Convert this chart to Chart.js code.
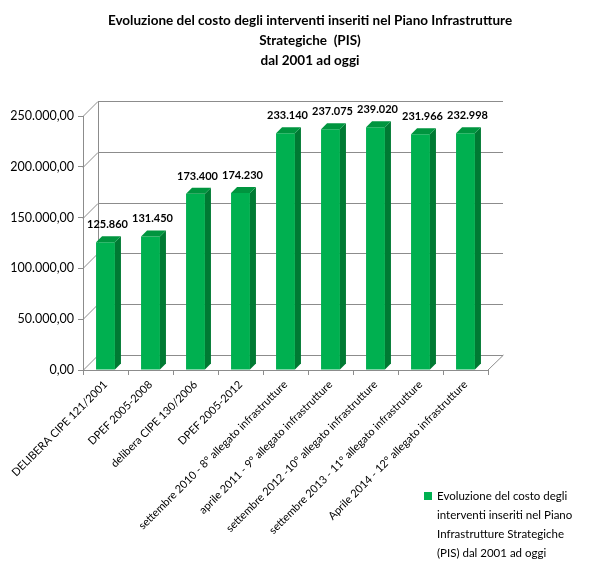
<!DOCTYPE html>
<html>
<head>
<meta charset="utf-8">
<script src="https://cdn.jsdelivr.net/npm/chart.js@4.4.0/dist/chart.umd.min.js"></script>
<style>
  body{margin:0;background:#fff;font-family:Lato,"Noto Sans",sans-serif}
  #wrap{position:relative;width:600px;height:578px}
  #title{position:absolute;left:0;top:10px;width:620px;text-align:center;font-weight:bold;font-size:13.5px;line-height:20px;color:#000}
  #legend{position:absolute;left:424px;top:486px;width:175px;font-size:11.5px;line-height:19px;color:#000}
  #legend span{display:inline-block;width:8px;height:8px;background:#00b050;margin-right:5px}
  #legend div{padding-left:13px}
</style>
</head>
<body>
<div id="wrap">
  <canvas id="c" width="600" height="578"></canvas>
  <div id="title">Evoluzione del costo degli interventi inseriti nel Piano Infrastrutture<br>Strategiche &nbsp;(PIS)<br>dal 2001 ad oggi</div>
  <div id="legend"><span></span>Evoluzione del costo degli<div>interventi inseriti nel Piano<br>Infrastrutture Strategiche<br>(PIS) dal 2001 ad oggi</div></div>
</div>
<script>
const categories = ['DELIBERA CIPE 121/2001','DPEF 2005-2008','delibera CIPE 130/2006','DPEF 2005-2012',
  'settembre 2010 - 8° allegato infrastrutture','aprile 2011 - 9° allegato infrastrutture',
  'settembre 2012 -10° allegato infrastrutture','settembre 2013 - 11° allegato infrastrutture',
  'Aprile 2014 - 12° allegato infrastrutture'];
const costs = [125860,131450,173400,174230,233140,237075,239020,231966,232998];
const valueLabels = ['125.860','131.450','173.400','174.230','233.140','237.075','239.020','231.966','232.998'];

const D = 15; // wall depth
const d = 6;  // bar depth

const fmt = v => v.toLocaleString('it-IT',{minimumFractionDigits:2,maximumFractionDigits:2});

const fake3d = {
  id:'fake3d',
  beforeDatasetsDraw(chart){
    const {ctx, chartArea:a, scales:{y}} = chart;
    ctx.save();
    ctx.strokeStyle = '#8c8c8c'; ctx.lineWidth = 1;
    ctx.beginPath();
    y.ticks.forEach(t=>{
      const py = Math.round(y.getPixelForValue(t.value))+0.5;
      ctx.moveTo(a.left,py); ctx.lineTo(a.left+D,py-D); ctx.lineTo(a.right+D,py-D);
    });
    ctx.moveTo(a.left+D+0.5,a.top-D); ctx.lineTo(a.left+D+0.5,a.bottom-D);
    ctx.moveTo(a.right+D+0.5,a.bottom-D); ctx.lineTo(a.right,a.bottom);
    ctx.stroke();
    ctx.restore();
  },
  afterDatasetsDraw(chart){
    const {ctx} = chart;
    const meta = chart.getDatasetMeta(0);
    ctx.save();
    meta.data.forEach((bar,i)=>{
      const w = bar.width, x0 = bar.x - w/2, x1 = bar.x + w/2, top = bar.y, base = bar.base;
      ctx.fillStyle = '#007a33';
      ctx.beginPath();
      ctx.moveTo(x1,top); ctx.lineTo(x1+d,top-d); ctx.lineTo(x1+d,base-d); ctx.lineTo(x1,base); ctx.closePath(); ctx.fill();
      ctx.fillStyle = '#00953f';
      ctx.beginPath();
      ctx.moveTo(x0,top); ctx.lineTo(x0+d,top-d); ctx.lineTo(x1+d,top-d); ctx.lineTo(x1,top); ctx.closePath(); ctx.fill();
      ctx.fillStyle = '#000';
      ctx.font = 'bold 11px Lato, "Noto Sans", sans-serif';
      ctx.textAlign = 'center'; ctx.textBaseline = 'bottom';
      ctx.fillText(valueLabels[i], bar.x+2, top-12);
    });
    ctx.restore();
  }
};

new Chart(document.getElementById('c'),{
  type:'bar',
  data:{labels:categories,datasets:[{data:costs,backgroundColor:'#00b050',barPercentage:0.42,categoryPercentage:1}]},
  options:{
    responsive:false,animation:false,
    layout:{padding:{top:116,right:112,left:0,bottom:0}},
    plugins:{legend:{display:false},tooltip:{enabled:false}},
    scales:{
      x:{
        grid:{display:true,drawOnChartArea:false,tickLength:5,color:'#8c8c8c'},
        border:{color:'#8c8c8c'},
        ticks:{minRotation:45,maxRotation:45,color:'#000',font:{size:11,family:'Lato, "Noto Sans", sans-serif'}},
        afterFit(s){s.height=208;}
      },
      y:{
        min:0,max:250000,
        grid:{display:true,drawOnChartArea:false,tickLength:5,color:'#8c8c8c'},
        border:{color:'#8c8c8c'},
        ticks:{stepSize:50000,color:'#000',padding:4,font:{size:12.5,family:'Lato, "Noto Sans", sans-serif'},callback:v=>fmt(v)},
        afterFit(s){s.width=83;}
      }
    }
  },
  plugins:[fake3d]
});
</script>
</body>
</html>
